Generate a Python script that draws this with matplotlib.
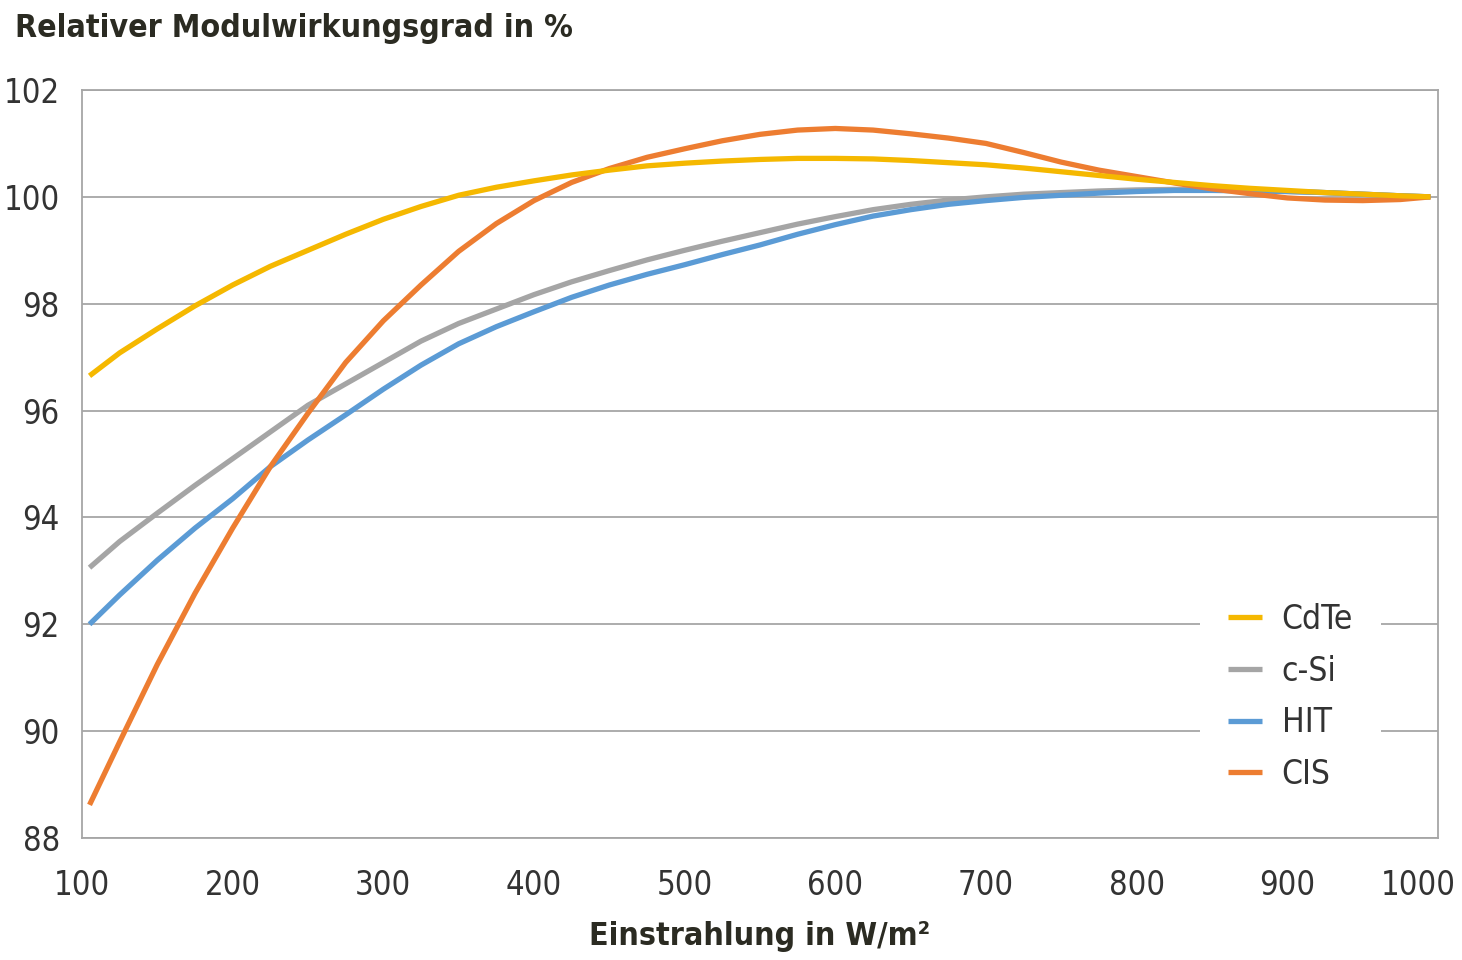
import matplotlib
matplotlib.use("Agg")
import matplotlib.pyplot as plt
from matplotlib.transforms import ScaledTranslation

plt.rcParams['font.family'] = ['DejaVu Sans']
plt.rcParams['font.stretch'] = 'condensed'

# Einstrahlung in W/m2
einstrahlung = [105, 125, 150, 175, 200, 225, 250, 275, 300, 325, 350, 375, 400, 425, 450, 475,
                500, 525, 550, 575, 600, 625, 650, 675, 700, 725, 750, 775, 800, 825, 850, 875,
                900, 925, 950, 975, 995]

cdte = [96.65, 97.08, 97.53, 97.96, 98.35, 98.7, 99.0, 99.3, 99.58, 99.82, 100.03, 100.18, 100.3, 100.41, 100.5, 100.58,
        100.63, 100.67, 100.7, 100.72, 100.72, 100.71, 100.68, 100.64, 100.6, 100.54, 100.47, 100.4, 100.33, 100.27, 100.21, 100.16,
        100.12, 100.08, 100.05, 100.02, 100.0]
csi = [93.06, 93.55, 94.08, 94.6, 95.1, 95.6, 96.1, 96.5, 96.9, 97.3, 97.63, 97.9, 98.17, 98.41, 98.62, 98.82,
       99.0, 99.17, 99.33, 99.49, 99.63, 99.76, 99.86, 99.94, 100.0, 100.05, 100.08, 100.11, 100.13, 100.14, 100.14, 100.12,
       100.1, 100.08, 100.05, 100.02, 100.0]
hit = [92.0, 92.55, 93.2, 93.8, 94.35, 94.95, 95.45, 95.92, 96.4, 96.85, 97.25, 97.57, 97.85, 98.12, 98.35, 98.55,
       98.73, 98.92, 99.1, 99.3, 99.48, 99.64, 99.76, 99.86, 99.93, 99.99, 100.03, 100.07, 100.1, 100.12, 100.12, 100.11,
       100.1, 100.08, 100.05, 100.02, 100.0]
cis = [88.62, 89.8, 91.25, 92.58, 93.8, 94.95, 95.95, 96.9, 97.68, 98.35, 98.98, 99.5, 99.93, 100.27, 100.53, 100.74,
       100.9, 101.05, 101.17, 101.25, 101.28, 101.25, 101.18, 101.1, 101.0, 100.83, 100.65, 100.5, 100.38, 100.26, 100.15, 100.06,
       99.98, 99.94, 99.93, 99.95, 100.0]

series = [
    ("c-Si", csi, "#a5a5a5"),
    ("HIT", hit, "#5b9bd5"),
    ("CIS", cis, "#ed7d31"),
    ("CdTe", cdte, "#f5b800"),
]
legend_order = ["CdTe", "c-Si", "HIT", "CIS"]

x_ticks = [100, 200, 300, 400, 500, 600, 700, 800, 900, 1000]
y_ticks = [88, 90, 92, 94, 96, 98, 100, 102]

textcol = "#333333"
gridcol = "#a6a6a6"

fig = plt.figure(figsize=(14.62, 9.6), dpi=100)
ax = fig.add_axes([82/1462, 1-838/960, (1438-82)/1462, (838-90)/960])

lines = {}
for name, vals, col in series:
    ln, = ax.plot(einstrahlung, vals, color=col, lw=3.8, label=name,
                  solid_capstyle='butt', solid_joinstyle='round')
    lines[name] = ln

ax.set_xlim(100, 1000)
ax.set_ylim(88, 102)
ax.set_xticks(x_ticks)
ax.set_yticks(y_ticks)
ax.tick_params(length=0, labelsize=23.5, colors=textcol)
ax.tick_params(axis='y', pad=16)
ax.tick_params(axis='x', pad=22)
ax.grid(axis='y', color=gridcol, lw=1.3)
ax.set_axisbelow(True)
for s in ax.spines.values():
    s.set_color(gridcol)
    s.set_linewidth(1.3)

# last label pulled left so it stays inside the picture
last = ax.get_xticklabels()[-1]
last.set_transform(last.get_transform() + ScaledTranslation(-0.2, 0, fig.dpi_scale_trans))

leg = ax.legend([lines[n] for n in legend_order], legend_order,
                loc='upper left', bbox_to_anchor=(0.8245, 0.352),
                frameon=True, fancybox=False, framealpha=1, edgecolor='none',
                fontsize=24, handlelength=1.0, handletextpad=0.6,
                labelspacing=0.56, borderpad=0.85, borderaxespad=0)
for t in leg.get_texts():
    t.set_color(textcol)

fig.text(15/1462, 1-28/960, "Relativer Modulwirkungsgrad in %", fontsize=23,
         fontweight='bold', color="#2b2b22", ha='left', va='center')
fig.text(760/1462, 1-937/960, "Einstrahlung in W/m²", fontsize=23,
         fontweight='bold', color="#2b2b22", ha='center', va='center')

fig.savefig("out.png", dpi=100, facecolor='white')
